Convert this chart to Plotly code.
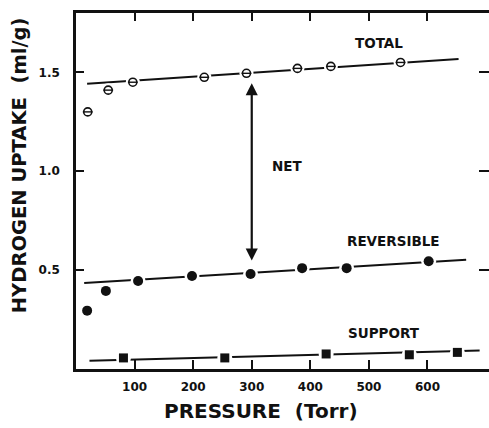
import plotly.graph_objects as go

# ---- data ----
pressure_total = [20, 55, 97, 219, 291, 378, 435, 554]
uptake_total = [1.30, 1.41, 1.45, 1.475, 1.495, 1.52, 1.53, 1.55]

pressure_rev = [19, 51, 106, 198, 298, 386, 462, 602]
uptake_rev = [0.295, 0.395, 0.445, 0.47, 0.48, 0.51, 0.51, 0.545]

pressure_support = [81, 254, 427, 569, 651]
uptake_support = [0.056, 0.056, 0.076, 0.072, 0.084]

total_fit_x = [19, 653]
total_fit_y = [1.442, 1.568]
rev_fit_x = [14, 666]
rev_fit_y = [0.435, 0.553]
support_fit_x = [23, 689]
support_fit_y = [0.042, 0.093]

net_x = 300
net_top = 1.445
net_bottom = 0.541

x_ticks = [100, 200, 300, 400, 500, 600]
y_ticks = [0.5, 1.0, 1.5]
y_tick_text = ["0.5", "1.0", "1.5"]

labels = ["TOTAL", "NET", "REVERSIBLE", "SUPPORT"]
label_x = [518, 361, 542, 525]
label_y = [1.65, 1.028, 0.649, 0.18]

FONT = "DejaVu Sans"
BLACK = "#111111"

fig = go.Figure()

# fit lines
for fx, fy in [(total_fit_x, total_fit_y), (rev_fit_x, rev_fit_y), (support_fit_x, support_fit_y)]:
    fig.add_trace(go.Scatter(x=fx, y=fy, mode="lines",
                             line=dict(color=BLACK, width=2), hoverinfo="skip"))

# white halos so the lines break around the markers
for px, py, s in [(pressure_total, uptake_total, 14), (pressure_rev, uptake_rev, 15),
                  (pressure_support, uptake_support, 15)]:
    fig.add_trace(go.Scatter(x=px, y=py, mode="markers",
                             marker=dict(symbol="circle", size=s, color="white",
                                         line=dict(width=0)), hoverinfo="skip"))

# total: open circle with a bar (theta)
fig.add_trace(go.Scatter(x=pressure_total, y=uptake_total, mode="markers",
                         marker=dict(symbol="circle", size=8, color="white",
                                     line=dict(color=BLACK, width=1.6))))
fig.add_trace(go.Scatter(x=pressure_total, y=uptake_total, mode="markers",
                         marker=dict(symbol="line-ew", size=7,
                                     line=dict(color=BLACK, width=1.4))))
# reversible: filled circles
fig.add_trace(go.Scatter(x=pressure_rev, y=uptake_rev, mode="markers",
                         marker=dict(symbol="circle", size=10, color=BLACK,
                                     line=dict(width=0))))
# support: filled squares
fig.add_trace(go.Scatter(x=pressure_support, y=uptake_support, mode="markers",
                         marker=dict(symbol="square", size=9, color=BLACK,
                                     line=dict(width=0))))

annotations = []
# double-headed arrow (NET)
annotations.append(dict(x=net_x, y=net_top, ax=net_x, ay=net_bottom,
                        xref="x", yref="y", axref="x", ayref="y",
                        text="", showarrow=True, arrowhead=2, startarrowhead=2,
                        arrowside="end+start", arrowsize=1.1, startarrowsize=1.1,
                        arrowwidth=2.2, arrowcolor=BLACK))
for t, lx, ly in zip(labels, label_x, label_y):
    annotations.append(dict(x=lx, y=ly, xref="x", yref="y", text="<b>%s</b>" % t,
                            showarrow=False, xanchor="center", yanchor="middle",
                            font=dict(family=FONT, size=13.5, color=BLACK)))
# axis titles
annotations.append(dict(x=-0.136, y=0.572, xref="paper", yref="paper",
                        text="<b>HYDROGEN UPTAKE  (ml/g)</b>", textangle=-90,
                        showarrow=False, xanchor="center", yanchor="middle",
                        font=dict(family=FONT, size=19.5, color=BLACK)))
annotations.append(dict(x=0.449, y=-0.118, xref="paper", yref="paper",
                        text="<b>PRESSURE  (Torr)</b>",
                        showarrow=False, xanchor="center", yanchor="middle",
                        font=dict(family=FONT, size=20, color=BLACK)))

tickfont = dict(family=FONT, size=12, color=BLACK, weight="bold")

fig.update_layout(
    width=489, height=428,
    margin=dict(l=76, r=0, t=13, b=59),
    paper_bgcolor="white", plot_bgcolor="white",
    showlegend=False,
    annotations=annotations,
    xaxis=dict(range=[0, 705], tickvals=x_ticks, ticks="inside", ticklen=9,
               tickwidth=2, tickcolor=BLACK, showline=True, linewidth=2.5,
               linecolor=BLACK, showgrid=False, zeroline=False,
               tickfont=tickfont, ticklabelstandoff=5),
    yaxis=dict(range=[0, 1.8], tickvals=y_ticks, ticktext=y_tick_text,
               ticks="inside", ticklen=8, tickwidth=2, tickcolor=BLACK,
               showline=True, linewidth=2.5, linecolor=BLACK, showgrid=False,
               zeroline=False, tickfont=tickfont, ticklabelstandoff=11),
    xaxis2=dict(range=[0, 705], overlaying="x", side="top", tickvals=x_ticks,
                ticks="inside", ticklen=8, tickwidth=2, tickcolor=BLACK,
                showticklabels=False, showline=True, linewidth=2.5,
                linecolor=BLACK, showgrid=False, zeroline=False),
    yaxis2=dict(range=[0, 1.8], overlaying="y", side="right", tickvals=y_ticks,
                ticks="inside", ticklen=10, tickwidth=2, tickcolor=BLACK,
                showticklabels=False, showline=False, showgrid=False,
                zeroline=False),
)
# dummy trace to activate the top/right axes
fig.add_trace(go.Scatter(x=[None], y=[None], xaxis="x2", yaxis="y2",
                         mode="markers", hoverinfo="skip"))

fig.write_html("out.html")
